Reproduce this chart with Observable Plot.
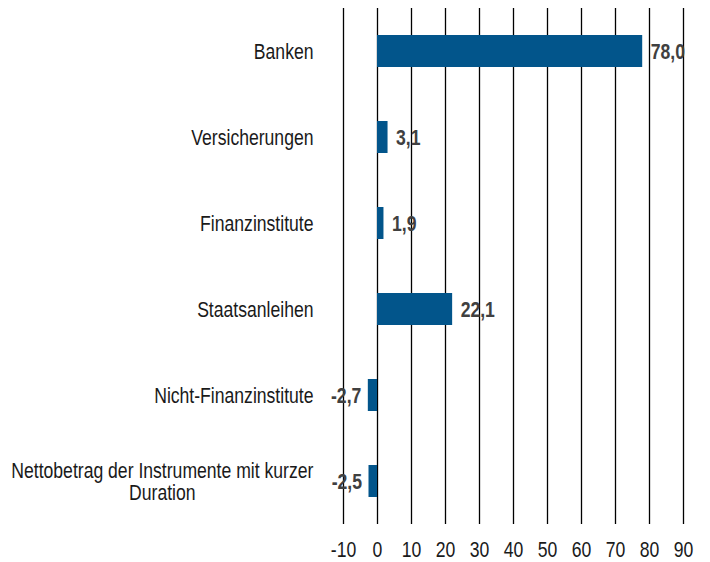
<!DOCTYPE html>
<html>
<head>
<meta charset="utf-8">
<script src="https://cdn.jsdelivr.net/npm/d3@7"></script>
<script src="https://cdn.jsdelivr.net/npm/@observablehq/plot@0.6"></script>
<style>
  html, body { margin: 0; padding: 0; background: #fff; }
  #chart { width: 710px; height: 562px; }
</style>
</head>
<body>
<div id="chart"></div>
<script>
const categories = [
  "Banken",
  "Versicherungen",
  "Finanzinstitute",
  "Staatsanleihen",
  "Nicht-Finanzinstitute",
  "Nettobetrag der Instrumente mit kurzer Duration"
];
const categoryLabels = [
  "Banken",
  "Versicherungen",
  "Finanzinstitute",
  "Staatsanleihen",
  "Nicht-Finanzinstitute",
  "Nettobetrag der Instrumente mit kurzer\nDuration"
];
const values = [78.0, 3.1, 1.9, 22.1, -2.7, -2.5];
const xTicks = [-10, 0, 10, 20, 30, 40, 50, 60, 70, 80, 90];

const data = categories.map((c, i) => ({category: c, value: values[i]}));
const labelOf = new Map(categories.map((c, i) => [c, categoryLabels[i]]));
const fmt = v => v.toFixed(1).replace(".", ",");

const FONT = "'Liberation Sans', Arial, sans-serif";
const NARROW = 0.80; // Arial Narrow look: Arial compressed horizontally

const chart = Plot.plot({
  width: 710,
  height: 562,
  marginTop: 8,
  marginBottom: 38,
  marginLeft: 343,
  marginRight: 27,
  style: {fontFamily: FONT, fontSize: "22px", color: "#1a1a1a", background: "#fff"},
  x: {domain: [-10, 90], ticks: xTicks, label: null},
  y: {domain: categories, paddingInner: 0.63, paddingOuter: 0.315, label: null},
  marks: [
    Plot.ruleX(xTicks, {stroke: "#000", strokeWidth: 1.3}),
    Plot.barX(data, {x: "value", y: "category", fill: "#02558b"}),
    Plot.text(data.filter(d => d.value >= 0), {
      x: "value", y: "category", text: d => fmt(d.value),
      textAnchor: "start", dx: 8, fill: "#404040", fontWeight: "bold"
    }),
    Plot.text(data.filter(d => d.value < 0), {
      x: "value", y: "category", text: d => fmt(d.value),
      textAnchor: "end", dx: -7, fill: "#404040", fontWeight: "bold"
    }),
    Plot.axisX({ticks: xTicks, tickSize: 0, tickPadding: 17, tickFormat: d => String(d), fill: "#1a1a1a", label: null}),
    Plot.axisY({tickSize: 0, tickPadding: 30, tickFormat: c => labelOf.get(c), fill: "#1a1a1a", label: null, lineWidth: 100})
  ]
});

document.getElementById("chart").appendChild(chart);

// Compress every text horizontally around its anchor point (narrow typeface look)
chart.querySelectorAll("text").forEach(t => {
  const xs = t.getAttribute("x");
  const x = xs != null && !isNaN(+xs) ? +xs : 0;
  if (xs != null && !isNaN(+xs)) t.removeAttribute("x");
  const tr = t.getAttribute("transform") || "";
  t.setAttribute("transform", `${tr} translate(${x},0) scale(${NARROW},1)`);
  const spans = t.querySelectorAll("tspan");
  if (spans.length > 1) {
    // Right-aligned block, lines centered within it
    const w = t.getBBox().width;
    t.setAttribute("text-anchor", "middle");
    t.setAttribute("transform", t.getAttribute("transform") + ` translate(${-w / 2},0)`);
  }
});
</script>
</body>
</html>
